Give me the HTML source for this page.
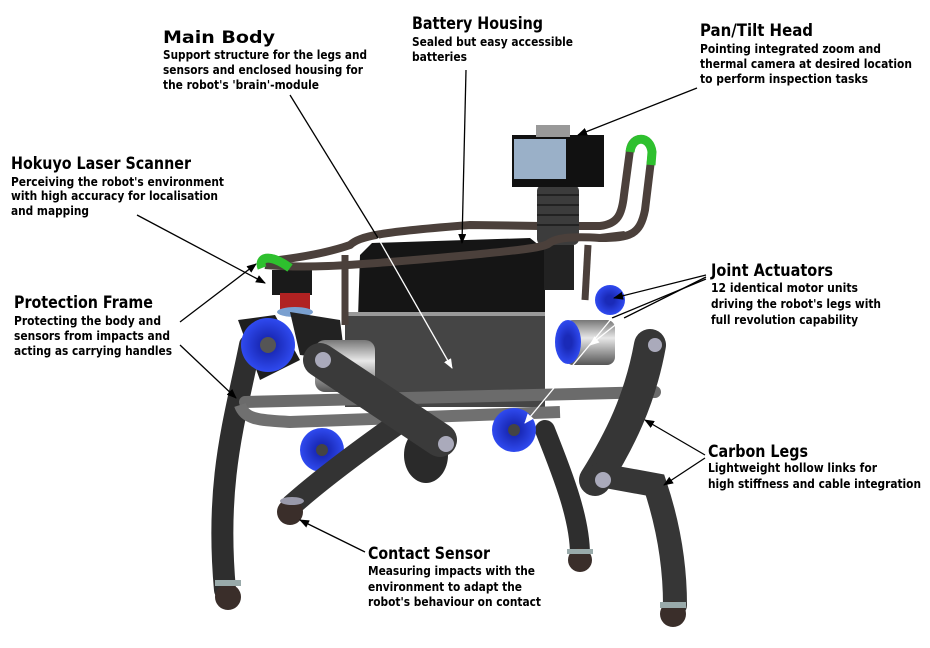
<!DOCTYPE html>
<html><head><meta charset="utf-8"><style>
html,body{margin:0;padding:0;background:#fff;}
svg{display:block;}
text{font-family:"DejaVu Sans","Liberation Sans",sans-serif;font-weight:bold;fill:#000;}
.t{font-size:17px;}
.d{font-size:12px;}
</style></head><body>
<svg width="930" height="648" viewBox="0 0 930 648" xmlns="http://www.w3.org/2000/svg">
<defs>
<marker id="a" markerWidth="10" markerHeight="8" refX="9" refY="4" orient="auto" markerUnits="userSpaceOnUse"><path d="M0,0 L10,4 L0,8 z" fill="#000"/></marker>
<marker id="w" markerWidth="10" markerHeight="8" refX="9" refY="4" orient="auto" markerUnits="userSpaceOnUse"><path d="M0,0 L10,4 L0,8 z" fill="#fff"/></marker>
<radialGradient id="blue" cx="0.5" cy="0.5" r="0.5"><stop offset="0.3" stop-color="#1a2ab8"/><stop offset="1" stop-color="#2f4af0"/></radialGradient>
<linearGradient id="cyl" x1="0" y1="0" x2="0" y2="1"><stop offset="0" stop-color="#777"/><stop offset="0.4" stop-color="#e8e8e8"/><stop offset="1" stop-color="#555"/></linearGradient>
</defs>

<path d="M250,345 C235,420 215,480 225,590" stroke="#2e2e2e" stroke-width="22" fill="none" stroke-linecap="round"/>
<path d="M545,430 C565,480 580,520 580,555" stroke="#2e2e2e" stroke-width="20" fill="none" stroke-linecap="round"/>
<circle cx="228" cy="597" r="13" fill="#3a2e2a"/>
<rect x="215" y="580" width="26" height="6" fill="#9aa"/>
<circle cx="580" cy="560" r="12" fill="#3a2e2a"/>
<rect x="567" y="549" width="26" height="5" fill="#9aa"/>

<path d="M238,320 L275,315 L300,360 L260,380 Z" fill="#1e1e1e"/>
<circle cx="268" cy="345" r="27" fill="url(#blue)"/>
<circle cx="268" cy="345" r="8" fill="#555"/>

<path d="M262,262 C300,258 330,252 350,245 C360,236 380,232 470,225 L540,226 L600,226 C618,224 622,214 624,195 L630,150 C632,135 650,135 652,152 L645,210 C640,235 630,238 600,238" stroke="#4b403b" stroke-width="8" fill="none" stroke-linecap="round"/>
<path d="M630,152 C632,135 650,135 652,152 L651,165" stroke="#2ec02e" stroke-width="9" fill="none"/>

<path d="M360,255 L372,243 L530,238 L545,250 L545,315 L358,318 Z" fill="#151515"/>
<rect x="537" y="185" width="42" height="60" rx="6" fill="#3c3c3c"/>
<g stroke="#222" stroke-width="2"><line x1="537" y1="195" x2="579" y2="195"/><line x1="537" y1="205" x2="579" y2="205"/><line x1="537" y1="215" x2="579" y2="215"/><line x1="537" y1="225" x2="579" y2="225"/></g>
<rect x="544" y="245" width="30" height="45" fill="#222"/>
<rect x="512" y="135" width="92" height="52" fill="#111"/>
<rect x="514" y="139" width="52" height="40" fill="#9ab0c8"/>
<rect x="536" y="125" width="34" height="12" fill="#999"/>
<rect x="272" y="270" width="40" height="25" fill="#1a1a1a"/>
<rect x="280" y="293" width="30" height="17" fill="#b02222"/>
<ellipse cx="295" cy="312" rx="18" ry="5" fill="#7aa0d0"/>
<path d="M290,312 L340,320 L345,360 L300,355 Z" fill="#222"/>

<rect x="345" y="312" width="200" height="95" fill="#454545"/>
<rect x="345" y="312" width="200" height="4" fill="#999"/>
<path d="M265,265 C300,268 330,268 470,255 C520,250 540,248 548,244 C555,238 570,236 600,238 L625,235" stroke="#4b403b" stroke-width="8" fill="none"/>
<line x1="345" y1="255" x2="345" y2="325" stroke="#4b403b" stroke-width="7"/>
<line x1="588" y1="245" x2="585" y2="300" stroke="#4b403b" stroke-width="7"/>
<path d="M262,268 C258,258 268,252 290,268" stroke="#2ec02e" stroke-width="9" fill="none"/>

<circle cx="610" cy="300" r="15" fill="url(#blue)"/>
<rect x="565" y="320" width="50" height="45" rx="8" fill="url(#cyl)"/>
<ellipse cx="568" cy="342" rx="13" ry="22" fill="url(#blue)"/>

<rect x="315" y="340" width="60" height="52" rx="10" fill="url(#cyl)"/>

<path d="M245,402 L655,392" stroke="#6b6b6b" stroke-width="12" fill="none" stroke-linecap="round"/>
<path d="M240,405 C245,420 260,420 290,422 L560,412" stroke="#707070" stroke-width="12" fill="none"/>

<circle cx="322" cy="450" r="22" fill="url(#blue)"/><circle cx="322" cy="450" r="6" fill="#444"/>
<ellipse cx="426" cy="455" rx="22" ry="28" fill="#2a2a2a"/>
<circle cx="514" cy="430" r="22" fill="url(#blue)"/><circle cx="514" cy="430" r="6" fill="#444"/>

<path d="M410,415 C360,450 320,480 292,505" stroke="#333" stroke-width="22" fill="none" stroke-linecap="round"/>
<path d="M320,360 L440,440" stroke="#3a3a3a" stroke-width="34" fill="none" stroke-linecap="round"/>
<circle cx="323" cy="360" r="8" fill="#aab"/>
<circle cx="446" cy="444" r="8" fill="#aab"/>
<circle cx="290" cy="512" r="13" fill="#3a2e2a"/>
<ellipse cx="292" cy="501" rx="12" ry="4" fill="#99a"/>

<path d="M650,345 C640,400 620,440 595,480" stroke="#363636" stroke-width="32" fill="none" stroke-linecap="round"/>
<path d="M600,475 L655,485 C670,530 675,570 675,605" stroke="#363636" stroke-width="24" fill="none" stroke-linecap="round"/>
<circle cx="655" cy="345" r="7" fill="#aab"/>
<circle cx="603" cy="480" r="8" fill="#aab"/>
<circle cx="673" cy="614" r="13" fill="#3a2e2a"/>
<rect x="660" y="602" width="26" height="6" fill="#9aa"/>

<g stroke="#000" stroke-width="1.3" fill="none">
<line x1="290" y1="95" x2="378" y2="238" />
<line x1="466" y1="70" x2="462" y2="243" marker-end="url(#a)"/>
<line x1="697" y1="88" x2="578" y2="135" marker-end="url(#a)"/>
<line x1="137" y1="215" x2="265" y2="283" marker-end="url(#a)"/>
<line x1="180" y1="322" x2="256" y2="264" marker-end="url(#a)"/>
<line x1="180" y1="345" x2="236" y2="398" marker-end="url(#a)"/>
<line x1="706" y1="275" x2="614" y2="298" marker-end="url(#a)"/>
<line x1="706" y1="277" x2="624" y2="318"/>
<line x1="706" y1="279" x2="612" y2="318"/>
<line x1="705" y1="455" x2="645" y2="420" marker-end="url(#a)"/>
<line x1="705" y1="458" x2="664" y2="485" marker-end="url(#a)"/>
<line x1="365" y1="552" x2="300" y2="520" marker-end="url(#a)"/>
</g>
<g stroke="#fff" stroke-width="1.3" fill="none">
<line x1="378" y1="238" x2="452" y2="368" marker-end="url(#w)"/>
<line x1="624" y1="318" x2="590" y2="345" marker-end="url(#w)"/>
<line x1="612" y1="318" x2="525" y2="423" marker-end="url(#w)"/>
</g>

<g lengthAdjust="spacingAndGlyphs">
<text class="t" x="163" y="43" textLength="112" lengthAdjust="spacingAndGlyphs">Main Body</text>
<text class="d" x="163" y="59" textLength="204" lengthAdjust="spacingAndGlyphs">Support structure for the legs and</text>
<text class="d" x="163" y="74" textLength="200" lengthAdjust="spacingAndGlyphs">sensors and enclosed housing for</text>
<text class="d" x="163" y="89" textLength="156" lengthAdjust="spacingAndGlyphs">the robot's 'brain'-module</text>

<text class="t" x="412" y="29" textLength="131" lengthAdjust="spacingAndGlyphs">Battery Housing</text>
<text class="d" x="412" y="46" textLength="161" lengthAdjust="spacingAndGlyphs">Sealed but easy accessible</text>
<text class="d" x="412" y="61" textLength="55" lengthAdjust="spacingAndGlyphs">batteries</text>

<text class="t" x="700" y="36" textLength="113" lengthAdjust="spacingAndGlyphs">Pan/Tilt Head</text>
<text class="d" x="700" y="53" textLength="181" lengthAdjust="spacingAndGlyphs">Pointing integrated zoom and</text>
<text class="d" x="700" y="68" textLength="212" lengthAdjust="spacingAndGlyphs">thermal camera at desired location</text>
<text class="d" x="700" y="83" textLength="168" lengthAdjust="spacingAndGlyphs">to perform inspection tasks</text>

<text class="t" x="11" y="169" textLength="180" lengthAdjust="spacingAndGlyphs">Hokuyo Laser Scanner</text>
<text class="d" x="11" y="186" textLength="213" lengthAdjust="spacingAndGlyphs">Perceiving the robot's environment</text>
<text class="d" x="11" y="200" textLength="207" lengthAdjust="spacingAndGlyphs">with high accuracy for localisation</text>
<text class="d" x="11" y="215" textLength="78" lengthAdjust="spacingAndGlyphs">and mapping</text>

<text class="t" x="14" y="308" textLength="139" lengthAdjust="spacingAndGlyphs">Protection Frame</text>
<text class="d" x="14" y="325" textLength="147" lengthAdjust="spacingAndGlyphs">Protecting the body and</text>
<text class="d" x="14" y="340" textLength="156" lengthAdjust="spacingAndGlyphs">sensors from impacts and</text>
<text class="d" x="14" y="355" textLength="158" lengthAdjust="spacingAndGlyphs">acting as carrying handles</text>

<text class="t" x="711" y="276" textLength="122" lengthAdjust="spacingAndGlyphs">Joint Actuators</text>
<text class="d" x="711" y="292" textLength="147" lengthAdjust="spacingAndGlyphs">12 identical motor units</text>
<text class="d" x="711" y="308" textLength="170" lengthAdjust="spacingAndGlyphs">driving the robot's legs with</text>
<text class="d" x="711" y="324" textLength="147" lengthAdjust="spacingAndGlyphs">full revolution capability</text>

<text class="t" x="708" y="457" textLength="100" lengthAdjust="spacingAndGlyphs">Carbon Legs</text>
<text class="d" x="708" y="472" textLength="169" lengthAdjust="spacingAndGlyphs">Lightweight hollow links for</text>
<text class="d" x="708" y="488" textLength="213" lengthAdjust="spacingAndGlyphs">high stiffness and cable integration</text>

<text class="t" x="368" y="559" textLength="122" lengthAdjust="spacingAndGlyphs">Contact Sensor</text>
<text class="d" x="368" y="575" textLength="167" lengthAdjust="spacingAndGlyphs">Measuring impacts with the</text>
<text class="d" x="368" y="591" textLength="154" lengthAdjust="spacingAndGlyphs">environment to adapt the</text>
<text class="d" x="368" y="606" textLength="173" lengthAdjust="spacingAndGlyphs">robot's behaviour on contact</text>
</g>
</svg>
</body></html>
